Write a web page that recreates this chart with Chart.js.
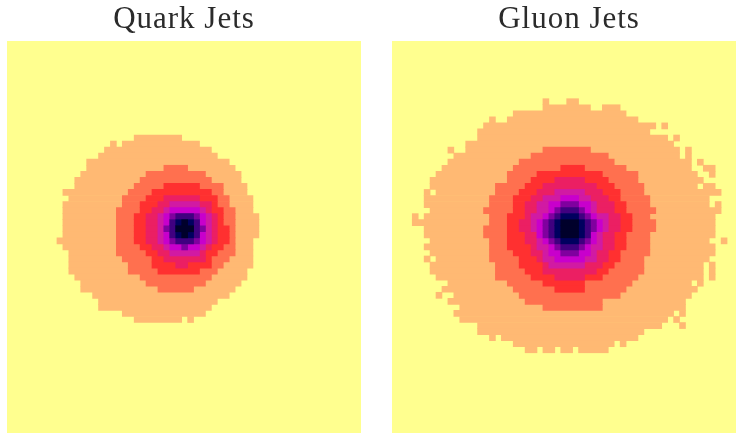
<!DOCTYPE html>
<html>
<head>
<meta charset="utf-8">
<title>Quark and Gluon Jets</title>
<script src="https://cdn.jsdelivr.net/npm/chart.js@4/dist/chart.umd.min.js"></script>
<style>
  html, body { margin: 0; padding: 0; background: #fff; overflow: hidden; width: 736px; height: 433px; }
  canvas { position: absolute; top: 0; }
  #quark-chart { left: 0; }
  #gluon-chart { left: 385px; }
</style>
</head>
<body>
<canvas id="quark-chart" width="368" height="433"></canvas>
<canvas id="gluon-chart" width="368" height="433"></canvas>
<script>
// every cell run is [row, first column, column after the last]
const levelColors = ['#ffb973', '#ff704f', '#ff3030', '#eb1f63', '#d11aa3', '#c800cc', '#80009f', '#400080', '#00005f', '#00002b']

const quarkOrange = [
  [16,22,30],[17,18,19],[17,20,33],[18,17,35],[19,16,36],[20,14,38],[21,14,39],[22,13,40],[23,12,40],[24,12,41],
  [25,10,41],[26,11,42],[27,10,42],[28,10,42],[29,10,43],[30,10,43],[31,10,43],[32,10,43],[33,9,42],[34,10,42],
  [35,11,42],[36,11,42],[37,11,42],[38,11,41],[39,12,41],[40,13,40],[41,13,39],[42,15,38],[43,16,36],[44,16,35],
  [45,20,34],[46,22,30],[46,31,32]
]
const quarkCoral = [
  [21,27,31],[22,24,34],[23,23,35],[24,22,37],[25,21,37],[26,20,38],[27,20,38],[28,19,39],[29,19,39],[30,19,39],
  [31,19,39],[32,19,39],[33,19,39],[34,19,39],[35,19,39],[36,20,38],[37,21,37],[38,21,36],[39,23,35],[40,24,34],[41,26,32]
]
const quarkRed = [
  [24,27,33],[25,25,35],[26,24,36],[27,23,36],[28,23,37],[29,22,37],[30,22,37],[31,22,38],[32,22,38],[33,22,38],
  [34,23,37],[35,24,36],[36,25,35],[37,25,35],[38,26,33]
]
const quarkCrimson = [
  [26,27,33],[27,26,35],[28,25,35],[29,24,36],[30,24,36],[31,24,36],[32,24,36],[33,24,36],[34,25,35],[35,26,34],[36,27,34],[37,29,31]
]
const quarkMagenta = [[27,28,33],[28,27,34],[29,26,35],[30,26,35],[31,26,35],[32,26,35],[33,26,35],[34,27,34],[35,28,33]]
const quarkViolet = [[28,28,33],[29,27,34],[30,27,34],[31,27,34],[32,27,34],[33,27,34],[34,28,33]]
const quarkPurple = [[29,28,33],[30,28,33],[31,27,34],[32,28,33],[33,28,33],[34,30,31]]
const quarkIndigo = [[29,29,32],[30,28,33],[31,28,33],[32,28,33],[33,29,32]]
const quarkNavy = [[30,29,32],[31,29,32],[32,29,32]]
const quarkBlack = [[30,30,31],[31,29,32],[32,30,31]]

const gluonOrange = [
  [10,26,27],[10,30,32],[11,26,34],[11,36,39],[12,21,40],[13,17,18],[13,20,42],[14,16,45],[14,46,47],[15,15,44],
  [16,15,47],[16,48,49],[17,13,48],[18,10,11],[18,13,49],[18,50,51],[19,11,49],[19,50,51],[20,10,51],[20,52,53],
  [21,9,51],[21,53,55],[22,8,52],[22,54,55],[23,7,53],[24,7,52],[24,53,55],[25,6,7],[25,8,56],[26,6,54],
  [27,6,54],[27,55,56],[28,7,56],[29,4,5],[29,6,55],[30,4,55],[31,6,55],[32,6,55],[33,7,54],[33,56,57],
  [34,6,55],[35,7,55],[36,6,7],[36,8,54],[37,7,53],[37,54,55],[38,7,53],[38,54,55],[39,8,53],[39,54,55],
  [40,10,51],[40,52,53],[41,9,52],[42,8,9],[42,11,51],[43,10,50],[44,12,50],[45,11,48],[45,49,50],[46,12,47],
  [46,48,49],[47,15,46],[47,49,50],[48,15,43],[49,17,18],[49,19,42],[50,21,38],[50,39,40],[51,23,25],[51,26,28],
  [51,29,31],[51,32,37]
]
const gluonCoral = [
  [18,26,34],[19,24,37],[20,22,38],[21,21,40],[22,20,42],[23,20,42],[24,18,43],[25,18,43],[26,17,44],[27,17,44],
  [28,16,45],[29,17,44],[30,17,45],[31,16,45],[32,16,44],[33,17,44],[34,17,44],[35,17,44],[36,17,43],[37,18,43],
  [38,18,43],[39,18,42],[40,20,41],[41,21,40],[42,22,39],[43,23,36],[44,26,36]
]
const gluonRed = [
  [21,29,33],[22,25,36],[23,24,37],[24,23,38],[25,22,39],[26,21,39],[27,21,40],[28,21,40],[29,20,41],[30,20,41],
  [31,20,41],[32,20,40],[33,20,40],[34,20,40],[35,21,39],[36,22,39],[37,22,38],[38,23,37],[39,24,36],[40,26,33],[41,28,33]
]
const gluonCrimson = [
  [23,28,33],[24,26,35],[25,25,36],[26,24,37],[27,23,38],[28,23,38],[29,23,39],[30,22,39],[31,22,39],[32,23,38],
  [33,23,38],[34,24,38],[35,24,37],[36,25,37],[37,26,36],[38,26,35],[39,28,33]
]
const gluonMagenta = [
  [25,28,33],[26,26,34],[27,25,35],[28,25,35],[29,24,37],[30,24,37],[31,24,37],[32,25,36],[33,25,36],[34,25,36],
  [35,26,35],[36,26,35],[37,27,33]
]
const gluonViolet = [[26,29,32],[27,27,34],[28,27,34],[29,26,35],[30,25,36],[31,25,36],[32,25,35],[33,26,35],[34,27,34],[35,27,34],[36,28,33]]
const gluonPurple = [[27,29,32],[28,28,33],[29,27,34],[30,26,35],[31,26,35],[32,26,34],[33,27,34],[34,28,33],[35,29,32]]
const gluonIndigo = [[28,29,32],[29,28,33],[30,27,34],[31,27,34],[32,27,34],[33,28,33],[34,29,32]]
const gluonNavy = [[29,29,32],[30,28,33],[31,28,33],[32,28,33],[33,29,32]]
const gluonBlack = [[30,29,32],[31,29,32],[32,29,32]]

const quarkLevels = [quarkOrange, quarkCoral, quarkRed, quarkCrimson, quarkMagenta, quarkViolet, quarkPurple, quarkIndigo, quarkNavy, quarkBlack]
const gluonLevels = [gluonOrange, gluonCoral, gluonRed, gluonCrimson, gluonMagenta, gluonViolet, gluonPurple, gluonIndigo, gluonNavy, gluonBlack]

// paints the panel colour and widens the title a bit, there is no Computer Modern here
const panelBackground = {
  id: 'panelBackground',
  beforeDraw(chart) {
    chart.ctx.letterSpacing = '1px'
  },
  beforeDatasetsDraw(chart) {
    const area = chart.chartArea
    chart.ctx.save()
    chart.ctx.fillStyle = '#ffff8f'
    chart.ctx.fillRect(area.left, area.top, area.width, area.height)
    chart.ctx.restore()
  }
}

function makeChart(id, title, levels) {
  // first dataset is painted last, so the core goes first
  const datasets = levels.map((runs, i) => ({
    data: runs.map(r => ({ x: [r[1], r[2]], y: r[0] + 0.5 })),
    backgroundColor: levelColors[i],
    order: levels.length - i,
    grouped: false,
    barPercentage: 1,
    categoryPercentage: 1
  }))
  return new Chart(document.getElementById(id), {
    type: 'bar',
    data: { datasets },
    plugins: [panelBackground],
    options: {
      indexAxis: 'y',
      responsive: false,
      animation: false,
      events: [],
      layout: { padding: { left: 7, right: 7, top: 0, bottom: 0 } },
      plugins: {
        legend: { display: false },
        tooltip: { enabled: false },
        title: {
          display: true,
          text: title,
          color: '#2b2b2b',
          font: { family: '"Liberation Serif", serif', size: 31, weight: 'normal', lineHeight: 1 },
          padding: { top: 4, bottom: 6 }
        }
      },
      scales: {
        x: { type: 'linear', display: false, min: 0.589, max: 60.19 },
        y: { type: 'linear', display: false, offset: false, reverse: true, min: 0.463, max: 65.26, ticks: { stepSize: 10 } }
      }
    }
  })
}

makeChart('quark-chart', 'Quark Jets', quarkLevels)
makeChart('gluon-chart', 'Gluon Jets', gluonLevels)
</script>
</body>
</html>
